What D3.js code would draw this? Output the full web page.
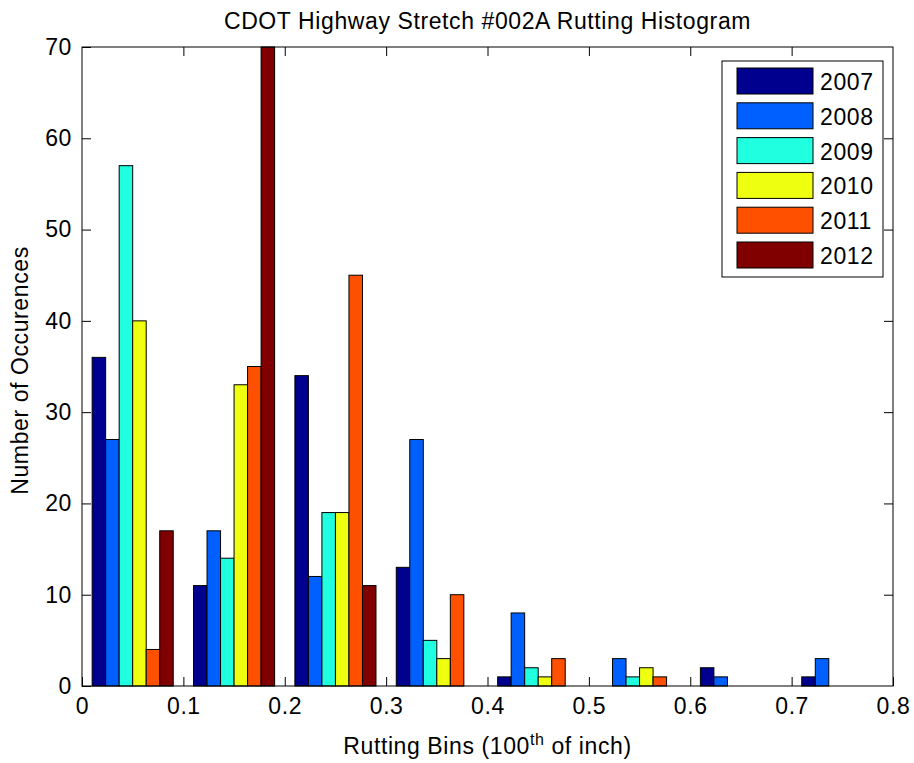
<!DOCTYPE html>
<html>
<head>
<meta charset="utf-8">
<script src="https://cdn.jsdelivr.net/npm/d3@7"></script>
<style>
    body { margin: 0; background: #fff; }
    svg { display: block; }
    text { font-family: "Liberation Sans", Arial, sans-serif; fill: #000; }
</style>
</head>
<body>
<svg width="914" height="763"></svg>
<script>
// bin centres (100th of inch) and the yearly counts per bin
const binCenters = [0.05, 0.15, 0.25, 0.35, 0.45, 0.55, 0.65, 0.75];
const years = ["2007", "2008", "2009", "2010", "2011", "2012"];
const counts2007 = [36, 11, 34, 13, 1, 0, 2, 1];
const counts2008 = [27, 17, 12, 27, 8, 3, 1, 3];
const counts2009 = [57, 14, 19, 5, 2, 1, 0, 0];
const counts2010 = [40, 33, 19, 3, 1, 2, 0, 0];
const counts2011 = [4, 35, 45, 10, 3, 1, 0, 0];
const counts2012 = [17, 70, 11, 0, 0, 0, 0, 0];
const xTicks = [0, 0.1, 0.2, 0.3, 0.4, 0.5, 0.6, 0.7, 0.8];
const yTicks = [0, 10, 20, 30, 40, 50, 60, 70];
const colors = ["#00008f", "#0060ff", "#20ffdf", "#efff10", "#ff5000", "#800000"];

const seriesCounts = [counts2007, counts2008, counts2009, counts2010, counts2011, counts2012];

const svg = d3.select("svg");
const area = { left: 82, top: 47, right: 893, bottom: 686 };
const fontSize = 23;
const spacing = "0.6px";

const scaleX = d3.scaleLinear().domain([0, 0.8]).range([area.left, area.right]);
const scaleY = d3.scaleLinear().domain([0, 70]).range([area.bottom, area.top]);

// grouped bars: 80% of bin width, split between the years
const groupWidth = scaleX(0.08) - scaleX(0);
const scaleSub = d3.scaleBand().domain(years).range([-groupWidth / 2, groupWidth / 2]).padding(0);

let bars = [];
years.forEach((year, i) => {
    binCenters.forEach((c, j) => {
        bars.push({ year: year, center: c, value: seriesCounts[i][j], color: colors[i] });
    });
});

svg.append("g")
    .selectAll("rect")
    .data(bars)
    .enter()
    .append("rect")
    .attr("x", d => scaleX(d.center) + scaleSub(d.year))
    .attr("y", d => scaleY(d.value))
    .attr("width", scaleSub.bandwidth())
    .attr("height", d => scaleY(0) - scaleY(d.value))
    .style("fill", d => d.color)
    .style("stroke", "#000")
    .style("stroke-width", 1);

// axes, MATLAB style: box with inward ticks on every side
const tickLen = 9;
const axisStyle = g => {
    g.select(".domain").remove();
    g.selectAll("line").attr("stroke", "#000");
    g.selectAll("text")
        .style("font-family", "'Liberation Sans', Arial, sans-serif")
        .style("font-size", fontSize + "px")
        .style("letter-spacing", spacing)
        .attr("fill", "#000");
};

svg.append("g")
    .attr("transform", `translate(0, ${area.bottom})`)
    .call(d3.axisBottom(scaleX).tickValues(xTicks).tickFormat(d => d === 0 ? "0" : d3.format(".1f")(d))
        .tickSizeInner(-tickLen).tickSizeOuter(0).tickPadding(12))
    .call(axisStyle);

svg.append("g")
    .attr("transform", `translate(0, ${area.top})`)
    .call(d3.axisTop(scaleX).tickValues(xTicks.slice(1, -1)).tickFormat("")
        .tickSizeInner(-tickLen).tickSizeOuter(0))
    .call(axisStyle);

svg.append("g")
    .attr("transform", `translate(${area.left}, 0)`)
    .call(d3.axisLeft(scaleY).tickValues(yTicks).tickFormat(d3.format("d"))
        .tickSizeInner(-tickLen).tickSizeOuter(0).tickPadding(10))
    .call(axisStyle);

svg.append("g")
    .attr("transform", `translate(${area.right}, 0)`)
    .call(d3.axisRight(scaleY).tickValues(yTicks.slice(1, -1)).tickFormat("")
        .tickSizeInner(-tickLen).tickSizeOuter(0))
    .call(axisStyle);

svg.append("rect")
    .attr("x", area.left)
    .attr("y", area.top)
    .attr("width", area.right - area.left)
    .attr("height", area.bottom - area.top)
    .style("fill", "none")
    .style("stroke", "#000")
    .style("stroke-width", 1);

// title and labels
svg.append("text")
    .attr("x", (area.left + area.right) / 2)
    .attr("y", 29)
    .attr("text-anchor", "middle")
    .style("font-size", fontSize + "px")
    .style("letter-spacing", spacing)
    .text("CDOT Highway Stretch #002A Rutting Histogram");

const xLabel = svg.append("text")
    .attr("x", (area.left + area.right) / 2)
    .attr("y", 754)
    .attr("text-anchor", "middle")
    .style("font-size", fontSize + "px")
    .style("letter-spacing", spacing);
xLabel.append("tspan").text("Rutting Bins (100");
xLabel.append("tspan").attr("dy", -9).style("font-size", "16px").text("th");
xLabel.append("tspan").attr("dy", 9).text(" of inch)");

svg.append("text")
    .attr("transform", `translate(28, ${(area.top + area.bottom) / 2 + 4}) rotate(-90)`)
    .attr("text-anchor", "middle")
    .style("font-size", fontSize + "px")
    .style("letter-spacing", spacing)
    .text("Number of Occurences");

// legend
const legend = { x: 722, y: 61, width: 161, height: 216, pitch: 34.8 };
const legendG = svg.append("g");
legendG.append("rect")
    .attr("x", legend.x)
    .attr("y", legend.y)
    .attr("width", legend.width)
    .attr("height", legend.height)
    .style("fill", "#fff")
    .style("stroke", "#000");

const item = legendG.selectAll(".item")
    .data(years)
    .enter()
    .append("g")
    .attr("class", "item")
    .attr("transform", (d, i) => `translate(${legend.x}, ${legend.y + 7 + i * legend.pitch})`);

item.append("rect")
    .attr("x", 15)
    .attr("width", 76)
    .attr("height", 26)
    .style("fill", (d, i) => colors[i])
    .style("stroke", "#000");

item.append("text")
    .attr("x", 98)
    .attr("y", 22)
    .style("font-size", fontSize + "px")
    .style("letter-spacing", spacing)
    .text(d => d);
</script>
</body>
</html>
